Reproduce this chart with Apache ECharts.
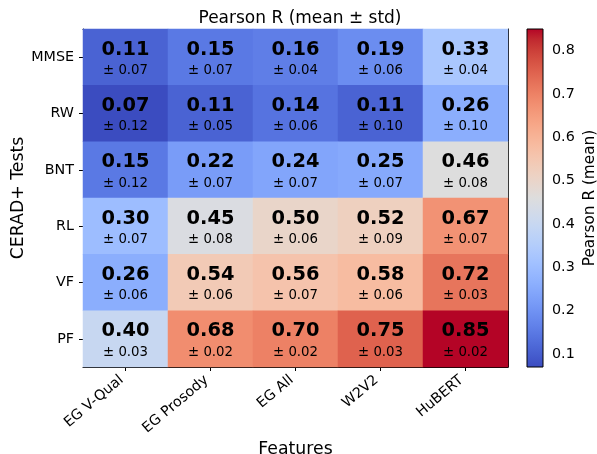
<!DOCTYPE html>
<html><head><meta charset="utf-8">
<script src="https://cdn.jsdelivr.net/npm/echarts@6/dist/echarts.min.js"></script>
<style>html,body{margin:0;padding:0;background:#fff}#c{width:597px;height:454px}</style>
</head><body><div id="c"></div>
<script>
const features = ['EG V-Qual', 'EG Prosody', 'EG All', 'W2V2', 'HuBERT'];
const tests = ['MMSE', 'RW', 'BNT', 'RL', 'VF', 'PF'];
const meanValues = [
  [0.11, 0.15, 0.16, 0.19, 0.33],
  [0.07, 0.11, 0.14, 0.11, 0.26],
  [0.15, 0.22, 0.24, 0.25, 0.46],
  [0.30, 0.45, 0.50, 0.52, 0.67],
  [0.26, 0.54, 0.56, 0.58, 0.72],
  [0.40, 0.68, 0.70, 0.75, 0.85]
];
const stdValues = [
  [0.07, 0.07, 0.04, 0.06, 0.04],
  [0.12, 0.05, 0.06, 0.10, 0.10],
  [0.12, 0.07, 0.07, 0.07, 0.08],
  [0.07, 0.08, 0.06, 0.09, 0.07],
  [0.06, 0.06, 0.07, 0.06, 0.03],
  [0.03, 0.02, 0.02, 0.03, 0.02]
];
const colorbarTicks = [0.1, 0.2, 0.3, 0.4, 0.5, 0.6, 0.7, 0.8];
const vmin = 0.07, vmax = 0.85;

const coolwarm = ['#3b4cc0','#445acc','#4d68d7','#5775e1','#6282ea','#6c8ef1','#779af7','#82a5fb','#8db0fe','#98b9ff','#a3c2ff','#aec9fd','#b8d0f9','#c2d5f4','#ccd9ee','#d5dbe6','#dddddd','#e5d8d1','#ecd3c5','#f1ccb9','#f5c4ad','#f7bba0','#f7b194','#f7a687','#f49a7b','#f18d6f','#ec7f63','#e57058','#de604d','#d55042','#cb3e38','#c0282f','#b40426'];

const FONT = 'DejaVu Sans';
const data = [];
for (let r = 0; r < tests.length; r++)
  for (let c = 0; c < features.length; c++)
    data.push([c, r, meanValues[r][c], stdValues[r][c]]);

const stops = coolwarm.map((col, i) => ({offset: i / (coolwarm.length - 1), color: col}));

const chart = echarts.init(document.getElementById('c'), null, {renderer: 'canvas'});
chart.setOption({
  animation: false,
  backgroundColor: '#fff',
  textStyle: {fontFamily: FONT},
  title: {
    text: 'Pearson R (mean ± std)', left: 295, top: 5, textAlign: 'center',
    textStyle: {fontFamily: FONT, fontSize: 17, fontWeight: 'normal', color: '#000'}
  },
  grid: [
    {left: 83, top: 29, width: 425, height: 338, containLabel: false, outerBoundsMode: 'none'},
    {left: 527, top: 29, width: 16, height: 338, containLabel: false, outerBoundsMode: 'none'}
  ],
  xAxis: [
    {
      type: 'category', data: features, gridIndex: 0, position: 'bottom',
      name: 'Features', nameLocation: 'middle', nameGap: 74, nameMoveOverlap: false,
      nameTextStyle: {fontFamily: FONT, fontSize: 17.3, color: '#000'},
      axisLine: {show: true, lineStyle: {color: '#000', width: 1}},
      axisTick: {show: true, alignWithLabel: true, length: 4, lineStyle: {color: '#000'}},
      axisLabel: {rotate: 40, fontFamily: FONT, fontSize: 14.3, color: '#000', margin: 8, interval: 0,
        padding: [0, 5, 0, 0]},
      splitLine: {show: false}
    },
    {
      type: 'category', data: features, gridIndex: 0, position: 'top',
      axisLine: {show: true, lineStyle: {color: '#000', width: 1}},
      axisTick: {show: false}, axisLabel: {show: false}, splitLine: {show: false}
    },
    {
      type: 'value', gridIndex: 1, min: 0, max: 1, show: false
    }
  ],
  yAxis: [
    {
      type: 'category', data: tests, gridIndex: 0, inverse: true, position: 'left',
      name: 'CERAD+ Tests', nameLocation: 'middle', nameGap: 56, nameRotate: 90, nameMoveOverlap: false,
      nameTextStyle: {fontFamily: FONT, fontSize: 17.3, color: '#000'},
      axisLine: {show: true, lineStyle: {color: '#000', width: 1}},
      axisTick: {show: true, alignWithLabel: true, length: 4, lineStyle: {color: '#000'}},
      axisLabel: {fontFamily: FONT, fontSize: 14.3, color: '#000', margin: 9},
      splitLine: {show: false}
    },
    {
      type: 'category', data: tests, gridIndex: 0, inverse: true, position: 'right',
      axisLine: {show: true, lineStyle: {color: '#000', width: 1}},
      axisTick: {show: false}, axisLabel: {show: false}, splitLine: {show: false}
    },
    {
      type: 'value', gridIndex: 1, min: vmin, max: vmax, position: 'right',
      name: 'Pearson R (mean)', nameLocation: 'middle', nameGap: 40, nameRotate: 90, nameMoveOverlap: false,
      nameTextStyle: {fontFamily: FONT, fontSize: 15.3, color: '#000'},
      axisLine: {show: false},
      axisTick: {show: true, length: 4, lineStyle: {color: '#000'}, customValues: colorbarTicks},
      axisLabel: {fontFamily: FONT, fontSize: 14.3, color: '#000', margin: 9, customValues: colorbarTicks,
        formatter: v => v.toFixed(1)},
      splitLine: {show: false}
    }
  ],
  visualMap: {
    show: false, type: 'continuous', min: vmin, max: vmax, dimension: 2, seriesIndex: 0,
    inRange: {color: coolwarm}
  },
  series: [
    {
      type: 'heatmap', xAxisIndex: 0, yAxisIndex: 0, data: data,
      itemStyle: {borderWidth: 0},
      emphasis: {disabled: true},
      label: {
        show: true, offset: [0, 1.5],
        formatter: p => '{m|' + p.value[2].toFixed(2) + '}\n{s|± ' + p.value[3].toFixed(2) + '}',
        rich: {
          m: {fontFamily: FONT, fontSize: 19.4, fontWeight: 'bold', color: '#000', lineHeight: 24, align: 'center'},
          s: {fontFamily: FONT, fontSize: 13.3, color: '#000', lineHeight: 18, align: 'center'}
        }
      }
    },
    {
      type: 'custom', xAxisIndex: 2, yAxisIndex: 2, data: [[0, 1, vmin, vmax]],
      renderItem: (params, api) => {
        const p0 = api.coord([api.value(0), api.value(2)]);
        const p1 = api.coord([api.value(1), api.value(3)]);
        return {
          type: 'rect',
          shape: {x: p0[0], y: p1[1], width: p1[0] - p0[0], height: p0[1] - p1[1]},
          style: {
            fill: {type: 'linear', x: 0, y: 1, x2: 0, y2: 0, colorStops: stops},
            stroke: '#000', lineWidth: 1
          }
        };
      }
    }
  ]
});
</script></body></html>
